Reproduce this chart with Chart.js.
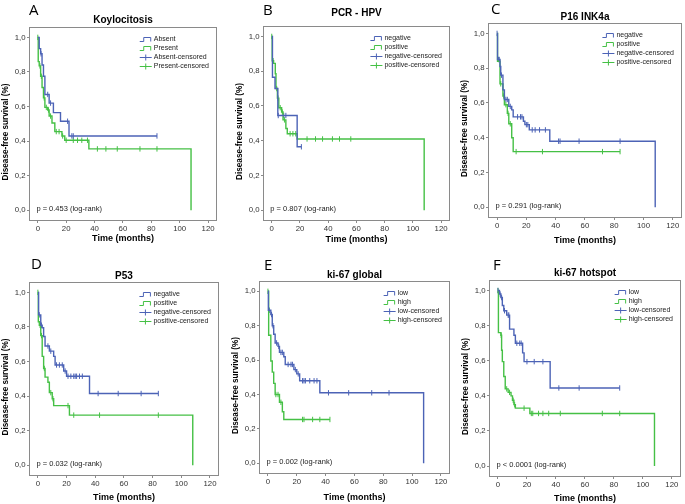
<!DOCTYPE html>
<html>
<head>
<meta charset="utf-8">
<script src="https://cdn.jsdelivr.net/npm/chart.js@4.4.1/dist/chart.umd.min.js"></script>
<style>
html, body { margin: 0; padding: 0; background: #fff; overflow: hidden; }
#wrap { position: relative; width: 685px; height: 504px; }
#wrap canvas { position: absolute; }
.letra { position: absolute; font: 15px "Open Sans", sans-serif; line-height: 15px; color: #000; }
</style>
</head>
<body>
<div id="wrap"></div>
<script>
// eixos
const xTicks = [0, 20, 40, 60, 80, 100, 120];
const yTicks = [0, 0.2, 0.4, 0.6, 0.8, 1.0];

// cada curva: [tempo, sobrevida depois do evento]; censuras: tempos
// A - Koylocitosis
const absentA = [[1,0.935],[2,0.905],[3,0.84],[4,0.775],[5,0.67],[8,0.62],[11,0.565],[16,0.515],[22,0.43]];
const absentA_c = [2.3,7,9,21,24,25,84];
const presentA = [[0.3,0.86],[1,0.835],[2,0.775],[3,0.71],[4,0.65],[5,0.595],[7,0.58],[8,0.545],[10,0.505],[12,0.455],[17,0.43],[19,0.405],[36,0.355],[108,0]];
const presentA_c = [0,1.5,2.5,4.5,6,7.5,9,13,15,17.5,20,25,28,31,35,42,48,56,72,84];

// B - PCR - HPV
const negB = [[0.5,0.765],[2.3,0.70],[4.3,0.545],[18,0.365]];
const negB_c = [4.6,8.5,10,21];
const posB = [[0.3,0.86],[1.3,0.845],[2.5,0.785],[3,0.70],[4,0.645],[5,0.59],[7,0.565],[8,0.52],[10,0.47],[11,0.44],[18,0.41],[108,0]];
const posB_c = [0,1,3.5,4.5,6,7.5,9,13,15,17,25,31,36,43,48,56];

// C - P16 INK4a
const negC = [[0.3,0.85],[2,0.81],[2.5,0.76],[4,0.675],[5,0.62],[8,0.58],[10,0.56],[11,0.52],[18,0.495],[19,0.475],[22,0.445],[36,0.38],[108,0]];
const negC_c = [0,1,1.5,3,6,7,9,14,16,17,20,21,24,26,29,33,42,43,56,84];
const posC = [[0.3,0.84],[2,0.71],[4,0.64],[5,0.59],[7,0.54],[8,0.48],[10,0.40],[11,0.32]];
const posC_c = [2.5,4.5,6,7.5,9,13,31,72,84];

// D - P53
const negD = [[0.5,0.87],[2,0.81],[3,0.795],[4,0.745],[5,0.69],[8,0.66],[11,0.63],[12,0.58],[18,0.545],[20,0.515],[36,0.415]];
const negD_c = [1,2.5,7,9,13,15,17,19,21,23,25,26,27,29,31,42,56,72,84];
const posD = [[0.3,0.83],[1,0.81],[2,0.75],[3,0.63],[4,0.56],[5,0.51],[7,0.48],[8,0.42],[10,0.385],[11,0.345],[22,0.29],[108,0]];
const posD_c = [0,1.5,2.5,4.5,9,10.5,21,25,43,84];

// E - ki-67 global
const lowE = [[0.3,0.89],[2,0.865],[3,0.80],[4,0.75],[5,0.70],[7,0.68],[8,0.645],[11,0.62],[12,0.575],[18,0.545],[20,0.52],[22,0.48],[36,0.41],[108,0]];
const lowE_c = [1,2.5,3.5,6,7.5,9,10,14,16,17,19,21,24,25,26,29,32,34,42,56,72,84];
const highE = [[0.5,0.745],[2,0.595],[3,0.53],[4,0.465],[5,0.40],[8,0.355],[10,0.30],[11,0.255]];
const highE_c = [0,5.5,7,9,24,25,31,36,43];

// F - ki-67 hotspot
const lowF = [[1,0.98],[2,0.96],[3,0.915],[4,0.885],[6,0.86],[8,0.78],[11,0.745],[12,0.70],[17,0.645],[18,0.595],[36,0.445]];
const lowF_c = [0,1.5,2.5,4.5,7,7.5,13,15,16,20,25,31,42,56,84];
const highF = [[0.3,0.76],[2,0.745],[2.5,0.66],[3,0.595],[4,0.51],[5,0.44],[7,0.42],[9,0.40],[10,0.375],[11,0.35],[12,0.33],[22,0.30],[108,0]];
const highF_c = [0,2.2,6,8,10.5,11.5,18,23,24,28,31,35,43,72,84];

const azul = '#4c63b6';
const verde = '#45c045';

// layout dos paineis (moldura em px da pagina)
const paineis = [
  { letra:'A', lx:29, ly:2, titulo:'Koylocitosis', p:'p = 0.453 (log-rank)', nomes:['Absent','Present'],
    curvas:[absentA, presentA], cens:[absentA_c, presentA_c], moldura:[29,27,218,221], tpad:1, xgap:18 },
  { letra:'B', lx:263, ly:2, titulo:'PCR - HPV', p:'p = 0.807 (log-rank)', nomes:['negative','positive'],
    curvas:[negB, posB], cens:[negB_c, posB_c], moldura:[263,26,451,221], tpad:7, xgap:19 },
  { letra:'C', lx:491, ly:1, titulo:'P16 INK4a', p:'p = 0.291 (log-rank)', nomes:['negative','positive'],
    curvas:[negC, posC], cens:[negC_c, posC_c], moldura:[488,23,683,218], tpad:0, xgap:23 },
  { letra:'D', lx:31, ly:256, titulo:'P53', p:'p = 0.032 (log-rank)', nomes:['negative','positive'],
    curvas:[negD, posD], cens:[negD_c, posD_c], moldura:[29,282,220,476], tpad:0, xgap:22 },
  { letra:'E', lx:264, ly:257, titulo:'ki-67 global', p:'p = 0.002 (log-rank)', nomes:['low','high'],
    curvas:[lowE, highE], cens:[lowE_c, highE_c], moldura:[259,281,451,474], tpad:0, xgap:24 },
  { letra:'F', lx:493, ly:257, titulo:'ki-67 hotspot', p:'p < 0.0001 (log-rank)', nomes:['low','high'],
    curvas:[lowF, highF], cens:[lowF_c, highF_c], moldura:[489,280,682,477], tpad:1, xgap:22 }
];

const fonte = '"Liberation Sans", Arial, sans-serif';
Chart.defaults.font.family = fonte;

function pontosDegrau(ev, cens) {
  let pts = [{x: 0, y: 1}];
  ev.forEach(e => pts.push({x: e[0], y: e[1]}));
  let ultimo = pts[pts.length - 1];
  let fim = Math.max(...cens);
  if (ultimo.y > 0 && fim > ultimo.x) pts.push({x: fim, y: ultimo.y});
  return pts;
}

function sobrevida(ev, t) {
  let s = 1;
  ev.forEach(e => { if (e[0] <= t) s = e[1]; });
  return s;
}

// moldura, titulo do eixo y, legenda e valor de p
const extras = {
  id: 'extras',
  beforeDatasetsDraw(chart) {
    const a = chart.chartArea, ctx = chart.ctx;
    ctx.save();
    ctx.strokeStyle = '#8a8a8a';
    ctx.lineWidth = 1;
    ctx.strokeRect(Math.round(a.left) + 0.5, Math.round(a.top) + 0.5,
      Math.round(a.right - a.left) - 1, Math.round(a.bottom - a.top) - 1);
    ctx.restore();
  },
  afterDraw(chart, args, opts) {
    const a = chart.chartArea, ctx = chart.ctx;
    const ds = chart.data.datasets;
    ctx.save();

    // titulo do eixo y (um pouco abaixo do centro, como no SPSS)
    ctx.save();
    ctx.translate(a.left - 23, (a.top + a.bottom) / 2 + 8);
    ctx.rotate(-Math.PI / 2);
    ctx.font = 'bold 8.2px ' + fonte;
    ctx.fillStyle = '#000';
    ctx.textAlign = 'center';
    ctx.textBaseline = 'middle';
    ctx.fillText('Disease-free survival (%)', 0, 0);
    ctx.restore();

    ctx.font = '7px ' + fonte;
    ctx.textBaseline = 'middle';
    ctx.textAlign = 'left';
    let maxW = 0;
    ds.forEach(d => { maxW = Math.max(maxW, ctx.measureText(d.label).width); });
    const tx = a.right - 8 - maxW;
    const sx = tx - 14;
    ds.forEach((d, i) => {
      const y = Math.round(a.top + 11.5 + i * 9.3) + 0.5;
      ctx.strokeStyle = d.borderColor;
      ctx.lineWidth = 1;
      ctx.beginPath();
      if (d.type === 'line') {
        ctx.moveTo(sx, y + 2); ctx.lineTo(sx + 4, y + 2); ctx.lineTo(sx + 4, y - 2);
        ctx.lineTo(sx + 11, y - 2); ctx.lineTo(sx + 11, y + 2);
      } else {
        ctx.moveTo(sx, y); ctx.lineTo(sx + 12, y);
        ctx.moveTo(sx + 6, y - 3); ctx.lineTo(sx + 6, y + 3);
      }
      ctx.stroke();
      ctx.fillStyle = '#222';
      ctx.fillText(d.label, tx, y);
    });
    const xs = chart.scales.x, ys = chart.scales.y;
    ctx.font = '7.5px ' + fonte;
    ctx.fillStyle = '#222';
    ctx.fillText(opts.texto, xs.getPixelForValue(-1), ys.getPixelForValue(0) - 1);
    ctx.restore();
  }
};

const wrap = document.getElementById('wrap');

paineis.forEach(p => {
  const [L, T, R, B] = p.moldura;
  const yW = 28, th = 12 + p.tpad, xh = Math.round(p.xgap + 5.4), rp = 4;

  const cv = document.createElement('canvas');
  cv.width = (R - L) + yW + rp;
  cv.height = (B - T) + th + xh;
  cv.style.left = (L - yW) + 'px';
  cv.style.top = (T - th) + 'px';
  wrap.appendChild(cv);

  const le = document.createElement('div');
  le.className = 'letra';
  le.textContent = p.letra;
  le.style.left = p.lx + 'px';
  le.style.top = p.ly + 'px';
  wrap.appendChild(le);

  const cores = [azul, verde];
  const datasets = [];
  p.curvas.forEach((c, i) => {
    datasets.push({
      type: 'line', label: p.nomes[i], data: pontosDegrau(c, p.cens[i]),
      borderColor: cores[i], borderWidth: 1.4, stepped: 'before', pointRadius: 0, fill: false
    });
  });
  p.cens.forEach((c, i) => {
    datasets.push({
      type: 'scatter', label: p.nomes[i] + '-censored',
      data: c.map(t => ({x: t, y: sobrevida(p.curvas[i], t)})),
      borderColor: cores[i], backgroundColor: cores[i], borderWidth: 1,
      pointStyle: 'line', rotation: 90, pointRadius: 2.7
    });
  });

  new Chart(cv, {
    type: 'line',
    data: { datasets },
    options: {
      responsive: false,
      animation: false,
      layout: { padding: { left: 0, top: 0, right: rp, bottom: 0 } },
      plugins: {
        legend: { display: false },
        tooltip: { enabled: false },
        title: {
          display: true, text: p.titulo, fullSize: false, color: '#000',
          font: { size: 10, weight: 'bold' }, padding: { top: 0, bottom: p.tpad }
        },
        extras: { texto: p.p }
      },
      scales: {
        x: {
          type: 'linear', min: -6.2, max: 126.3,
          afterBuildTicks: ax => { ax.ticks = xTicks.map(v => ({value: v})); },
          afterFit: ax => { ax.height = xh; ax.paddingLeft = 0; ax.paddingRight = 0; },
          ticks: { color: '#333', font: { size: 7.8 }, padding: 1, maxRotation: 0 },
          grid: { display: true, drawOnChartArea: false, drawTicks: true, tickLength: 2, color: '#8a8a8a' },
          border: { display: false },
          title: { display: true, text: 'Time (months)', color: '#000', font: { size: 9, weight: 'bold' }, padding: 0 }
        },
        y: {
          type: 'linear', min: -0.062, max: 1.06,
          afterBuildTicks: ax => { ax.ticks = yTicks.map(v => ({value: v})); },
          afterFit: ax => { ax.width = yW; ax.paddingTop = 0; ax.paddingBottom = 0; },
          ticks: { color: '#333', font: { size: 7.8 }, padding: 1.5,
            callback: v => v.toFixed(1).replace('.', ',') },
          grid: { display: true, drawOnChartArea: false, drawTicks: true, tickLength: 2, color: '#8a8a8a' },
          border: { display: false },
          title: { display: false }
        }
      }
    },
    plugins: [extras]
  });
});
</script>
</body>
</html>
